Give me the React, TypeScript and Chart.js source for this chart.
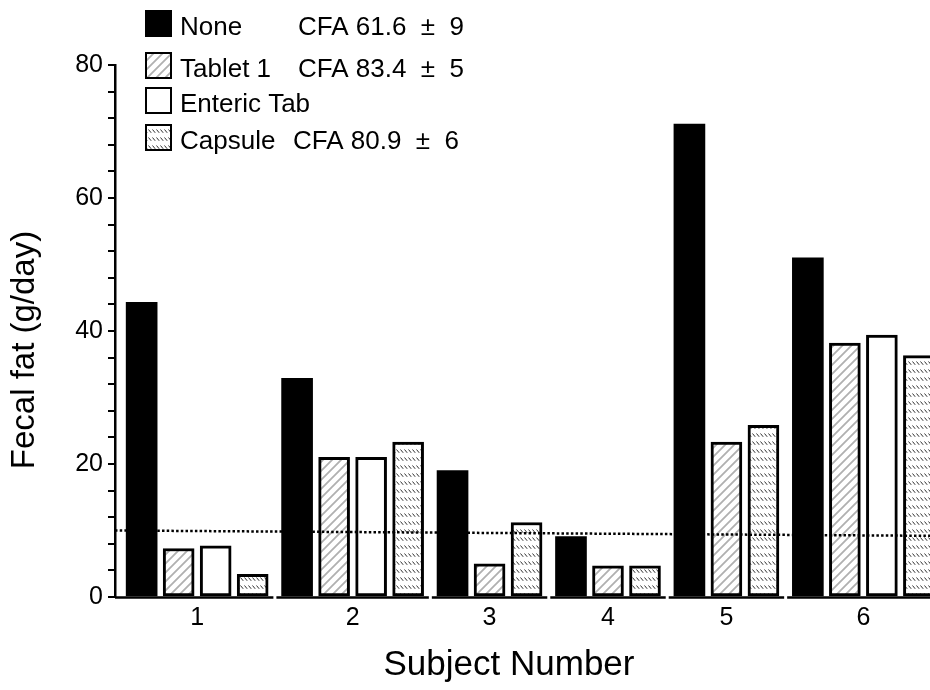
import React, { useEffect, useRef } from 'react';
import { Chart, registerables } from 'chart.js';

Chart.register(...registerables);

// ---------- data ----------
const subjects = ['1', '2', '3', '4', '5', '6'];
const seriesNames = ['None', 'Tablet 1', 'Enteric Tab', 'Capsule'];
const seriesNotes = ['CFA 61.6  \u00b1  9', 'CFA 83.4  \u00b1  5', '', 'CFA 80.9  \u00b1  6'];
const noneFat: (number | null)[] = [44.3, 32.9, 19.0, 9.1, 71.1, 51.0];
const tablet1Fat: (number | null)[] = [7.3, 21.0, 5.0, 4.7, 23.3, 38.2];
const entericFat: (number | null)[] = [7.7, 21.0, null, null, null, 39.4];
const capsuleFat: (number | null)[] = [3.4, 23.3, 11.2, 4.7, 25.8, 36.3];
const normalLimit = [10.0, 9.2]; // dotted line: value at left end, value at right end
const yLabelTicks = [0, 20, 40, 60, 80];
const xTitle = 'Subject Number';
const yTitle = 'Fecal fat (g/day)';

// ---------- layout constants ----------
const FONT = "'Liberation Sans', Arial, Helvetica, sans-serif";
const GROUP_GAP = 0.2; // extra slot space between subjects
const X_MIN = -0.72;
const X_MAX = 21.3;
const LEGEND_ROWS = [10, 52, 87, 124];
const NOTE_X = [298, 298, 298, 293];

const SERIES = [noneFat, tablet1Fat, entericFat, capsuleFat];

// bars of each subject are packed side by side (only bars that exist)
function computeSlots() {
  const pos: (number | null)[][] = SERIES.map(() => []);
  const centers: number[] = [];
  const ranges: [number, number][] = [];
  let cursor = 0;
  subjects.forEach((_, i) => {
    const start = cursor;
    SERIES.forEach((s, k) => {
      if (s[i] != null) {
        pos[k][i] = cursor;
        cursor += 1;
      } else {
        pos[k][i] = null;
      }
    });
    const end = cursor - 1;
    centers.push((start + end) / 2);
    ranges.push([start, end]);
    cursor += GROUP_GAP;
  });
  return { pos, centers, ranges };
}

function makeTabletPattern(): CanvasPattern | string {
  const c = document.createElement('canvas');
  c.width = 9;
  c.height = 9;
  const g = c.getContext('2d');
  if (!g) return '#ddd';
  g.fillStyle = '#ffffff';
  g.fillRect(0, 0, 9, 9);
  g.strokeStyle = '#b0b0b0';
  g.lineWidth = 1.8;
  g.beginPath();
  g.moveTo(0, 9);
  g.lineTo(9, 0);
  g.moveTo(-2, 2);
  g.lineTo(2, -2);
  g.moveTo(7, 11);
  g.lineTo(11, 7);
  g.stroke();
  return g.createPattern(c, 'repeat') || '#ddd';
}

function makeCapsulePattern(): CanvasPattern | string {
  const c = document.createElement('canvas');
  c.width = 4;
  c.height = 8;
  const g = c.getContext('2d');
  if (!g) return '#eee';
  g.fillStyle = '#ffffff';
  g.fillRect(0, 0, 4, 8);
  g.strokeStyle = '#333333';
  g.lineWidth = 1;
  g.beginPath();
  g.moveTo(0.5, 1.5);
  g.lineTo(3.2, 4.8);
  g.stroke();
  return g.createPattern(c, 'repeat') || '#eee';
}

export default function App() {
  const canvasRef = useRef<HTMLCanvasElement | null>(null);

  useEffect(() => {
    const canvas = canvasRef.current;
    if (!canvas) return;
    const { pos, centers, ranges } = computeSlots();
    const fills: (string | CanvasPattern)[] = ['#000000', makeTabletPattern(), '#ffffff', makeCapsulePattern()];

    const barSets: any[] = SERIES.map((vals, k) => ({
      type: 'bar',
      label: seriesNames[k],
      data: vals
        .map((v, i) => (v == null ? null : { x: pos[k][i] as number, y: v }))
        .filter((p) => p !== null),
      backgroundColor: fills[k],
      borderColor: '#000000',
      borderWidth: k === 0 ? 0 : 3,
      borderSkipped: false,
      barThickness: 31,
      grouped: false,
      order: 2,
    }));

    const lineSet: any = {
      type: 'line',
      label: 'limit',
      data: [
        { x: X_MIN, y: normalLimit[0] },
        { x: X_MAX, y: normalLimit[1] },
      ],
      borderColor: '#000000',
      borderWidth: 2.5,
      borderDash: [2.5, 2.2],
      pointRadius: 0,
      fill: false,
      order: 0,
    };

    const baselinePlugin = {
      id: 'segBaseline',
      afterDatasetsDraw(chart: any) {
        const { ctx, chartArea, scales } = chart;
        const x = scales.x;
        const y0 = scales.y.getPixelForValue(0);
        ctx.save();
        ctx.strokeStyle = '#000000';
        ctx.lineWidth = 2.5;
        ranges.forEach(([s, e], i) => {
          const left =
            i === 0
              ? chartArea.left
              : (x.getPixelForValue(ranges[i - 1][1]) + x.getPixelForValue(s)) / 2 + 1.5;
          const right =
            i === ranges.length - 1
              ? chartArea.right
              : (x.getPixelForValue(e) + x.getPixelForValue(ranges[i + 1][0])) / 2 - 1.5;
          ctx.beginPath();
          ctx.moveTo(left, y0 + 0.5);
          ctx.lineTo(right, y0 + 0.5);
          ctx.stroke();
        });
        ctx.restore();
      },
    };

    const textPlugin = {
      id: 'cornerLegendAndTitles',
      afterDraw(chart: any) {
        const ctx = chart.ctx;
        ctx.save();
        // legend
        seriesNames.forEach((name, k) => {
          const bx = 145;
          const by = LEGEND_ROWS[k];
          const size = 27;
          ctx.fillStyle = chart.data.datasets[k].backgroundColor;
          ctx.fillRect(bx, by, size, size);
          if (k > 0) {
            ctx.lineWidth = 2;
            ctx.strokeStyle = '#000000';
            ctx.strokeRect(bx + 1, by + 1, size - 2, size - 2);
          }
          ctx.fillStyle = '#000000';
          ctx.font = `26px ${FONT}`;
          ctx.textBaseline = 'alphabetic';
          ctx.textAlign = 'left';
          ctx.fillText(name, 180, by + 25);
          if (seriesNotes[k]) ctx.fillText(seriesNotes[k], NOTE_X[k], by + 25);
        });
        // axis titles
        ctx.fillStyle = '#000000';
        ctx.textAlign = 'center';
        ctx.textBaseline = 'middle';
        ctx.font = `35px ${FONT}`;
        ctx.fillText(xTitle, 509, 665);
        ctx.translate(25, 350);
        ctx.rotate(-Math.PI / 2);
        ctx.font = `33px ${FONT}`;
        ctx.fillText(yTitle, 0, 0);
        ctx.restore();
      },
    };

    Chart.defaults.font.family = FONT;
    Chart.defaults.color = '#000000';

    const chart = new Chart(canvas, {
      type: 'bar',
      data: { datasets: [...barSets, lineSet] },
      options: {
        responsive: false,
        animation: false,
        devicePixelRatio: 1,
        layout: { padding: { top: 65, left: 0, right: 0, bottom: 0 } },
        plugins: {
          legend: { display: false },
          tooltip: { enabled: false },
        },
        scales: {
          x: {
            type: 'linear',
            min: X_MIN,
            max: X_MAX,
            offset: false,
            grid: { display: false, drawTicks: false, offset: false },
            border: { display: false },
            afterBuildTicks: (s: any) => {
              s.ticks = centers.map((v) => ({ value: v }));
            },
            afterFit: (s: any) => {
              s.height = 93;
            },
            ticks: {
              autoSkip: false,
              maxRotation: 0,
              padding: 6,
              font: { size: 25 },
              color: '#000000',
              callback: (_v: any, i: number) => subjects[i],
            },
            title: { display: false },
          },
          y: {
            type: 'linear',
            min: 0,
            max: 80,
            afterFit: (s: any) => {
              s.width = 115;
            },
            ticks: {
              stepSize: 4,
              autoSkip: false,
              padding: 5,
              font: { size: 25 },
              color: '#000000',
              callback: (v: any) => (yLabelTicks.includes(Number(v)) ? String(v) : ''),
            },
            grid: {
              drawOnChartArea: false,
              drawTicks: true,
              tickLength: 7,
              color: '#000000',
              lineWidth: 2,
            },
            border: { display: true, color: '#000000', width: 2.5 },
            title: { display: false },
          },
        },
      } as any,
      plugins: [baselinePlugin, textPlugin],
    } as any);

    return () => {
      chart.destroy();
    };
  }, []);

  return (
    <div
      style={{
        position: 'fixed',
        left: 0,
        top: 0,
        width: 930,
        height: 690,
        overflow: 'hidden',
        background: '#ffffff',
      }}
    >
      <canvas ref={canvasRef} width={930} height={690} style={{ display: 'block' }} />
    </div>
  );
}
